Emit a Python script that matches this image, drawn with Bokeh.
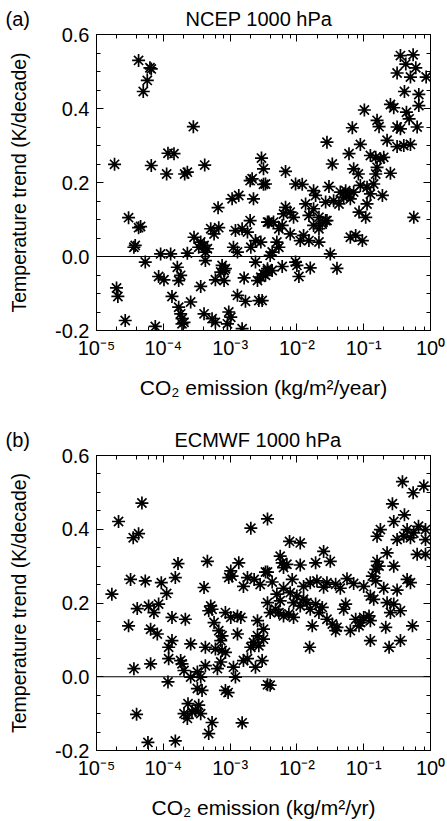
import numpy as np
from bokeh.plotting import figure
from bokeh.layouts import column
from bokeh.models import (LogAxis, LinearAxis, LogTicker, FixedTicker,
                          PrintfTickFormatter, CustomJSTickFormatter, Span, Range1d)
from bokeh.embed import file_html
from bokeh.resources import INLINE

# ---------------- data (log10 of CO2 emission, temperature trend K/decade) ----------------
ncep_log_emission = [
    -4.37, -4.20, -4.18, -4.24, -4.30, -3.55, -4.73, -4.18, -3.95, -3.93, -3.84, -3.68, -3.64, -3.38, -2.67, -2.53, -2.50,
    -0.45, -0.26, -0.37, -0.22, -0.50, -0.30, -0.065, -0.39, -0.175, -0.60, -0.55, -0.175, -0.99, -0.36, -0.32, -0.80,
    -0.77, -1.17, -0.50, -0.45, -0.20, -0.65, -1.05, -1.55, -0.50, -0.40, -0.30, -1.22, -0.90, -0.82, -0.75, -0.70,
    -1.47, -1.15, -1.08, -0.80, -0.82, -0.60, -2.17,
    -2.70, -2.50, -2.97, -2.87, -2.65, -3.18, -4.52, -4.34, -4.37, -2.70, -2.44, -3.29, -3.17, -3.24, -2.92, -2.82,
    -2.74, -3.54, -3.44, -3.39, -3.34, -3.47, -3.37, -2.95, -2.89, -2.69, -2.62, -2.54, -4.44, -4.42, -4.04, -3.89,
    -3.64, -4.27, -3.79, -3.74, -3.37, -3.12, -3.09, -3.14, -3.07, -2.62, -2.44, -2.47, -4.07, -3.99, -3.77, -3.22,
    -3.09, -2.79, -2.59, -3.44, -4.70, -4.68, -3.87, -2.89, -2.77, -2.57, -3.59, -3.77, -3.74, -3.72, -3.69, -3.39,
    -3.27, -3.22, -3.02, -2.99, -3.04, -4.57, -4.12, -2.82, -3.72,
    -2.47, -2.02, -1.92, -1.75, -1.72, -1.52, -1.35, -1.27, -1.22, -1.15, -1.20, -1.30, -1.05, -0.95, -0.85, -0.90,
    -0.72, -0.95, -1.07, -0.97, -1.37, -1.45, -1.57, -1.87, -1.75, -2.17, -2.10, -2.20, -2.05, -1.82, -1.67, -1.57,
    -2.42, -2.35, -2.27, -2.22, -2.10, -1.90, -1.82, -1.95, -1.67, -1.75, -1.67, -1.62, -1.55, -1.20, -1.12, -1.02,
    -0.25, -1.50, -2.30, -2.27, -2.37, -2.40, -1.40, -1.80, -2.02, -2.00, -2.22, -2.44, -2.37, -2.50, -2.54, -1.97,
    -2.52,
]
ncep_trend = [
    0.530, 0.510, 0.507, 0.476, 0.446, 0.351, 0.249, 0.246, 0.223, 0.279, 0.278, 0.223, 0.228, 0.247, 0.210, 0.266, 0.237,
    0.543, 0.545, 0.520, 0.510, 0.496, 0.485, 0.485, 0.446, 0.438, 0.411, 0.402, 0.408, 0.396, 0.390, 0.372, 0.368,
    0.351, 0.348, 0.350, 0.345, 0.350, 0.314, 0.303, 0.309, 0.297, 0.300, 0.303, 0.278, 0.273, 0.268, 0.264, 0.268,
    0.250, 0.237, 0.223, 0.241, 0.223, 0.225, 0.230,
    0.205, 0.195, 0.156, 0.165, 0.156, 0.132, 0.105, 0.081, 0.078, 0.097, 0.093, 0.075, 0.078, 0.061, 0.070, 0.075,
    0.066, 0.052, 0.039, 0.030, 0.021, 0.025, 0.012, 0.025, 0.012, 0.025, 0.043, 0.039, 0.025, 0.030, 0.007, 0.007,
    0.009, -0.015, -0.029, -0.051, -0.011, -0.024, -0.038, -0.042, -0.033, -0.015, -0.038, -0.051, -0.054, -0.063, -0.065, -0.063,
    -0.065, -0.058, -0.065, -0.081, -0.085, -0.108, -0.108, -0.105, -0.121, -0.119, -0.123, -0.137, -0.155, -0.168, -0.178, -0.155,
    -0.168, -0.178, -0.150, -0.164, -0.182, -0.173, -0.189, -0.195, -0.182,
    0.196, 0.196, 0.195, 0.178, 0.165, 0.189, 0.174, 0.178, 0.169, 0.174, 0.156, 0.160, 0.192, 0.187, 0.196, 0.169,
    0.165, 0.142, 0.120, 0.106, 0.142, 0.151, 0.147, 0.142, 0.129, 0.133, 0.120, 0.115, 0.106, 0.111, 0.106, 0.097,
    0.093, 0.093, 0.075, 0.084, 0.061, 0.057, 0.043, 0.043, 0.039, 0.084, 0.075, 0.088, 0.097, 0.052, 0.057, 0.043,
    0.106, 0.007, 0.039, 0.025, 0.012, 0.003, -0.032, -0.031, -0.015, -0.024, -0.027, -0.033, -0.038, -0.047, -0.056, -0.054,
    -0.119,
]

ecmwf_log_emission = [
    -4.67, -4.32, -4.45, -4.37, -2.69, -2.44, -4.49, -4.27, -4.03, -3.82, -3.78, -3.34, -2.99, -2.97, -3.02, -2.87,
    -2.74, -2.64, -2.44, -3.39,
    -0.42, -0.10, -0.26, -0.57, -0.39, -0.55, -0.75, -0.80, -0.35, -0.25, -0.18, -0.075, -0.40, -0.30, -0.50, -0.075,
    -2.11, -1.95, -1.60, -0.65, -0.20, -0.075, -2.25, -2.22, -2.15, -2.20, -1.95, -1.72, -1.50, -0.80, -0.77, -0.82,
    -0.55, -2.47, -2.37, -2.07, -1.80, -1.70, -1.55, -1.42, -1.25, -1.15, -0.87, -0.82, -0.35, -0.30,
    -2.44, -2.30, -2.25, -2.32, -2.40, -2.27, -2.10, -2.00, -1.90, -2.05, -1.95, -1.85, -2.20, -2.05, -2.12, -1.80,
    -1.72, -1.67, -1.62, -1.77, -1.55, -1.47, -1.42, -1.40, -1.30, -1.27, -1.20, -1.12, -1.05, -1.00, -0.92, -0.90,
    -1.07, -0.85, -0.90, -0.65, -0.55, -0.60, -0.45, -0.67, -0.27, -0.90, -0.62, -0.45, -1.81, -2.40,
    -1.90, -1.60, -1.35, -1.00, -0.70, -0.50, -2.20, -2.80, -2.55,
    -4.77, -4.39, -4.22, -4.14, -4.07, -3.95, -4.52, -4.19, -4.09, -3.87, -3.67, -3.29, -3.27, -3.32, -3.07, -2.99,
    -2.89, -2.84, -3.24, -3.17, -3.12, -3.14, -2.89, -2.59, -2.50, -2.59, -2.50, -2.65, -2.69, -2.57, -3.87, -3.92,
    -3.59, -3.37, -3.22, -3.12, -3.07, -4.19, -4.44, -3.92, -3.74, -3.72, -3.69, -3.59, -3.49, -3.44, -3.37, -3.19,
    -3.14, -2.95, -2.80, -2.74, -2.62, -2.52, -2.92, -3.93, -3.49, -3.42, -3.07, -3.03, -2.44, -3.63, -3.69, -3.64,
    -3.57, -3.52, -3.47, -3.44, -4.40, -3.27, -3.32, -2.82, -4.23, -3.82,
]
ecmwf_trend = [
    0.421, 0.471, 0.377, 0.388, 0.403, 0.428, 0.264, 0.260, 0.255, 0.269, 0.307, 0.313, 0.287, 0.273, 0.269, 0.309,
    0.269, 0.264, 0.284, 0.242,
    0.529, 0.517, 0.499, 0.469, 0.439, 0.421, 0.399, 0.381, 0.399, 0.390, 0.408, 0.399, 0.381, 0.377, 0.372, 0.372,
    0.367, 0.363, 0.340, 0.336, 0.332, 0.332, 0.327, 0.309, 0.305, 0.296, 0.303, 0.309, 0.313, 0.313, 0.300, 0.291,
    0.300, 0.284, 0.257, 0.264, 0.255, 0.260, 0.255, 0.251, 0.266, 0.253, 0.273, 0.260, 0.264, 0.255,
    0.201, 0.224, 0.206, 0.183, 0.174, 0.174, 0.228, 0.219, 0.210, 0.201, 0.192, 0.201, 0.165, 0.161, 0.170, 0.183,
    0.197, 0.174, 0.188, 0.138, 0.156, 0.143, 0.125, 0.134, 0.183, 0.197, 0.125, 0.156, 0.147, 0.161, 0.165, 0.152,
    0.138, 0.210, 0.219, 0.201, 0.197, 0.174, 0.179, 0.134, 0.138, 0.098, 0.080, 0.098, 0.080, -0.023,
    0.245, 0.243, 0.240, 0.245, 0.240, 0.235, 0.240, 0.245, 0.250,
    0.224, 0.185, 0.192, 0.174, 0.197, 0.226, 0.138, 0.129, 0.116, 0.161, 0.156, 0.192, 0.183, 0.179, 0.174, 0.161,
    0.165, 0.161, 0.147, 0.125, 0.111, 0.098, 0.116, 0.152, 0.129, 0.111, 0.102, 0.093, 0.080, 0.084, 0.098, 0.080,
    0.089, 0.080, 0.075, 0.071, 0.066, 0.035, 0.022, 0.049, 0.044, 0.035, 0.017, -0.001, 0.013, -0.001, 0.030, 0.022,
    0.040, 0.026, 0.044, 0.049, 0.026, 0.044, -0.001, -0.014, -0.032, -0.037, -0.037, -0.043, -0.022, -0.073, -0.100, -0.113,
    -0.095, -0.091, -0.077, -0.100, -0.102, -0.124, -0.154, -0.125, -0.178, -0.174,
]

panel_letters = ["(a)", "(b)"]
panel_titles = ["NCEP 1000 hPa", "ECMWF 1000 hPa"]
x_labels = ["CO\u2082 emission (kg/m\u00b2/year)", "CO\u2082 emission (kg/m\u00b2/yr)"]
y_label = "Temperature trend (K/decade)"
y_major_ticks = [-0.2, 0.0, 0.2, 0.4, 0.6]
y_minor_ticks = [-0.15, -0.1, -0.05, 0.05, 0.1, 0.15, 0.25, 0.3, 0.35, 0.45, 0.5, 0.55]

FONT = "Liberation Sans"

sup_js = """
const sup = {"-":"\u207b","0":"\u2070","1":"\u00b9","2":"\u00b2","3":"\u00b3","4":"\u2074",
             "5":"\u2075","6":"\u2076","7":"\u2077","8":"\u2078","9":"\u2079"};
const e = Math.round(Math.log10(tick));
return "10" + String(e).split("").map(c => sup[c]).join("");
"""


def style_axis(ax, labels=True):
    ax.major_tick_in = 7
    ax.major_tick_out = 0
    ax.minor_tick_in = 4
    ax.minor_tick_out = 0
    ax.axis_line_color = "black"
    ax.major_tick_line_color = "black"
    ax.minor_tick_line_color = "black"
    ax.major_label_text_font = FONT
    ax.major_label_text_color = "black"
    ax.axis_label_text_font = FONT
    ax.axis_label_text_font_style = "normal"
    ax.axis_label_text_color = "black"
    if not labels:
        ax.major_label_text_font_size = "1px"
        ax.major_label_text_alpha = 0
        ax.major_label_standoff = 0
    else:
        ax.major_label_text_font_size = "20px"


def make_panel(log_em, trend, letter, title, gap, xlabel, top_border, bottom_border, height):
    em = 10.0 ** np.array(log_em)
    p = figure(width=447, height=height, x_axis_type="log", output_backend="svg",
               toolbar_location=None, x_range=Range1d(1e-5, 1.0), y_range=Range1d(-0.2, 0.6),
               min_border_left=96, min_border_right=17, min_border_top=top_border,
               min_border_bottom=bottom_border)
    # panel letter and title share one row, as in the original figure
    p.title.text = letter + "\u00a0" * gap + title
    p.title.align = "left"
    p.title.offset = -91
    p.title.text_font = FONT
    p.title.text_font_size = "20px"
    p.title.text_font_style = "normal"
    p.title.text_color = "black"
    p.xgrid.visible = False
    p.ygrid.visible = False
    p.outline_line_color = "black"
    p.background_fill_color = "white"
    p.border_fill_color = "white"

    xt = LogTicker(desired_num_ticks=6)
    yt = FixedTicker(ticks=y_major_ticks, minor_ticks=y_minor_ticks)

    p.xaxis.ticker = xt
    p.xaxis.formatter = CustomJSTickFormatter(code=sup_js)
    p.xaxis.axis_label = xlabel
    p.xaxis.major_label_standoff = 6
    p.xaxis.axis_label_standoff = 14
    p.xaxis.axis_label_text_font_size = "21px"
    style_axis(p.xaxis[0])

    p.yaxis.ticker = yt
    p.yaxis.formatter = PrintfTickFormatter(format="%.1f")
    p.yaxis.axis_label = y_label
    p.yaxis.major_label_standoff = 7
    p.yaxis.axis_label_standoff = 22
    p.yaxis.axis_label_text_font_size = "19.5px"
    style_axis(p.yaxis[0])

    top = LogAxis(ticker=xt)
    style_axis(top, labels=False)
    p.add_layout(top, "above")
    right = LinearAxis(ticker=yt)
    style_axis(right, labels=False)
    p.add_layout(right, "right")

    p.add_layout(Span(location=0, dimension="width", line_color="black", line_width=1))

    p.scatter(em, trend, marker="asterisk", size=13, line_color="black", line_width=1.7)
    return p


p1 = make_panel(ncep_log_emission, ncep_trend, panel_letters[0], panel_titles[0], 28, x_labels[0], 33, 80, 410)
p2 = make_panel(ecmwf_log_emission, ecmwf_trend, panel_letters[1], panel_titles[1], 26, x_labels[1], 45, 69, 411)

layout = column(p1, p2, spacing=0)
open("out.html", "w").write(file_html(layout, INLINE))
